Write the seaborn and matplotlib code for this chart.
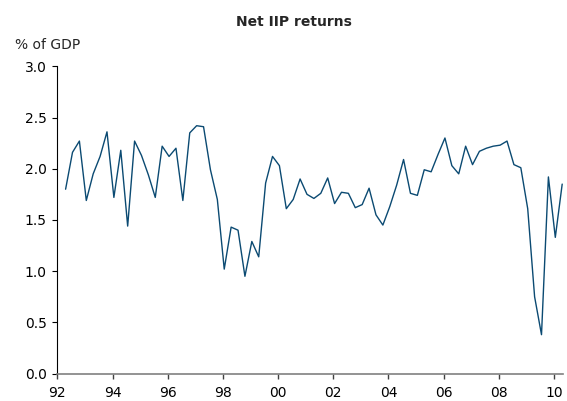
import matplotlib
matplotlib.use("Agg")
import matplotlib.pyplot as plt
import seaborn as sns
import pandas as pd

# quarterly net IIP returns, % of GDP, 1992Q1 - 2010Q1
quarters = pd.period_range("1992Q1", "2010Q1", freq="Q")
returns = [
    1.80, 2.16, 2.27, 1.69, 1.95, 2.12, 2.36, 1.72,
    2.18, 1.44, 2.27, 2.13, 1.94, 1.72, 2.22, 2.12,
    2.20, 1.69, 2.35, 2.42, 2.41, 1.99, 1.70, 1.02,
    1.43, 1.40, 0.95, 1.29, 1.14, 1.86, 2.12, 2.03,
    1.61, 1.70, 1.90, 1.75, 1.71, 1.76, 1.91, 1.66,
    1.77, 1.76, 1.62, 1.65, 1.81, 1.55, 1.45, 1.63,
    1.84, 2.09, 1.76, 1.74, 1.99, 1.97, 2.14, 2.30,
    2.03, 1.95, 2.22, 2.04, 2.17, 2.20, 2.22, 2.23,
    2.27, 2.04, 2.01, 1.61, 0.75, 0.38, 1.92, 1.33,
    1.85,
]
tick_years = list(range(1992, 2011, 2))
tick_labels = [f"{y % 100:02d}" for y in tick_years]

df = pd.DataFrame({
    "x": [p.year + (p.quarter - 1) / 4 + 0.3 for p in quarters],
    "value": returns,
})

sns.set_style("ticks")
plt.rcParams["font.family"] = ["DejaVu Sans"]

fig = plt.figure(figsize=(5.67, 4.01), dpi=100)
ax = fig.add_axes([0.1011, 0.0683, 0.8914, 0.7664])

sns.lineplot(data=df, x="x", y="value", ax=ax, color="#0b4a72", linewidth=1.0)

ax.set_xlim(1992, 2010.32)
ax.set_ylim(0, 3)
ax.set_xticks(tick_years)
ax.set_xticklabels(tick_labels)
ax.set_yticks([0, 0.5, 1.0, 1.5, 2.0, 2.5, 3.0])
ax.set_yticklabels([f"{v:.1f}" for v in [0, 0.5, 1.0, 1.5, 2.0, 2.5, 3.0]])
ax.set_xlabel("")
ax.set_ylabel("")

for side in ["top", "right"]:
    ax.spines[side].set_visible(False)
ax.spines["left"].set_color("black")
ax.spines["left"].set_linewidth(0.8)
ax.spines["bottom"].set_color("#808080")
ax.spines["bottom"].set_linewidth(1.2)

ax.tick_params(axis="y", direction="out", length=3.6, width=0.8, color="black",
               pad=4, labelsize=10, labelcolor="black")
ax.tick_params(axis="x", direction="out", length=3.6, width=1.0, color="#404040",
               pad=5.5, labelsize=10, labelcolor="black")

fig.text(0.518, 0.944, "Net IIP returns", ha="center", va="center",
         fontsize=10, fontweight="bold")
fig.text(0.027, 0.889, "% of GDP", ha="left", va="center", fontsize=10)

plt.savefig("out.png", dpi=100)
